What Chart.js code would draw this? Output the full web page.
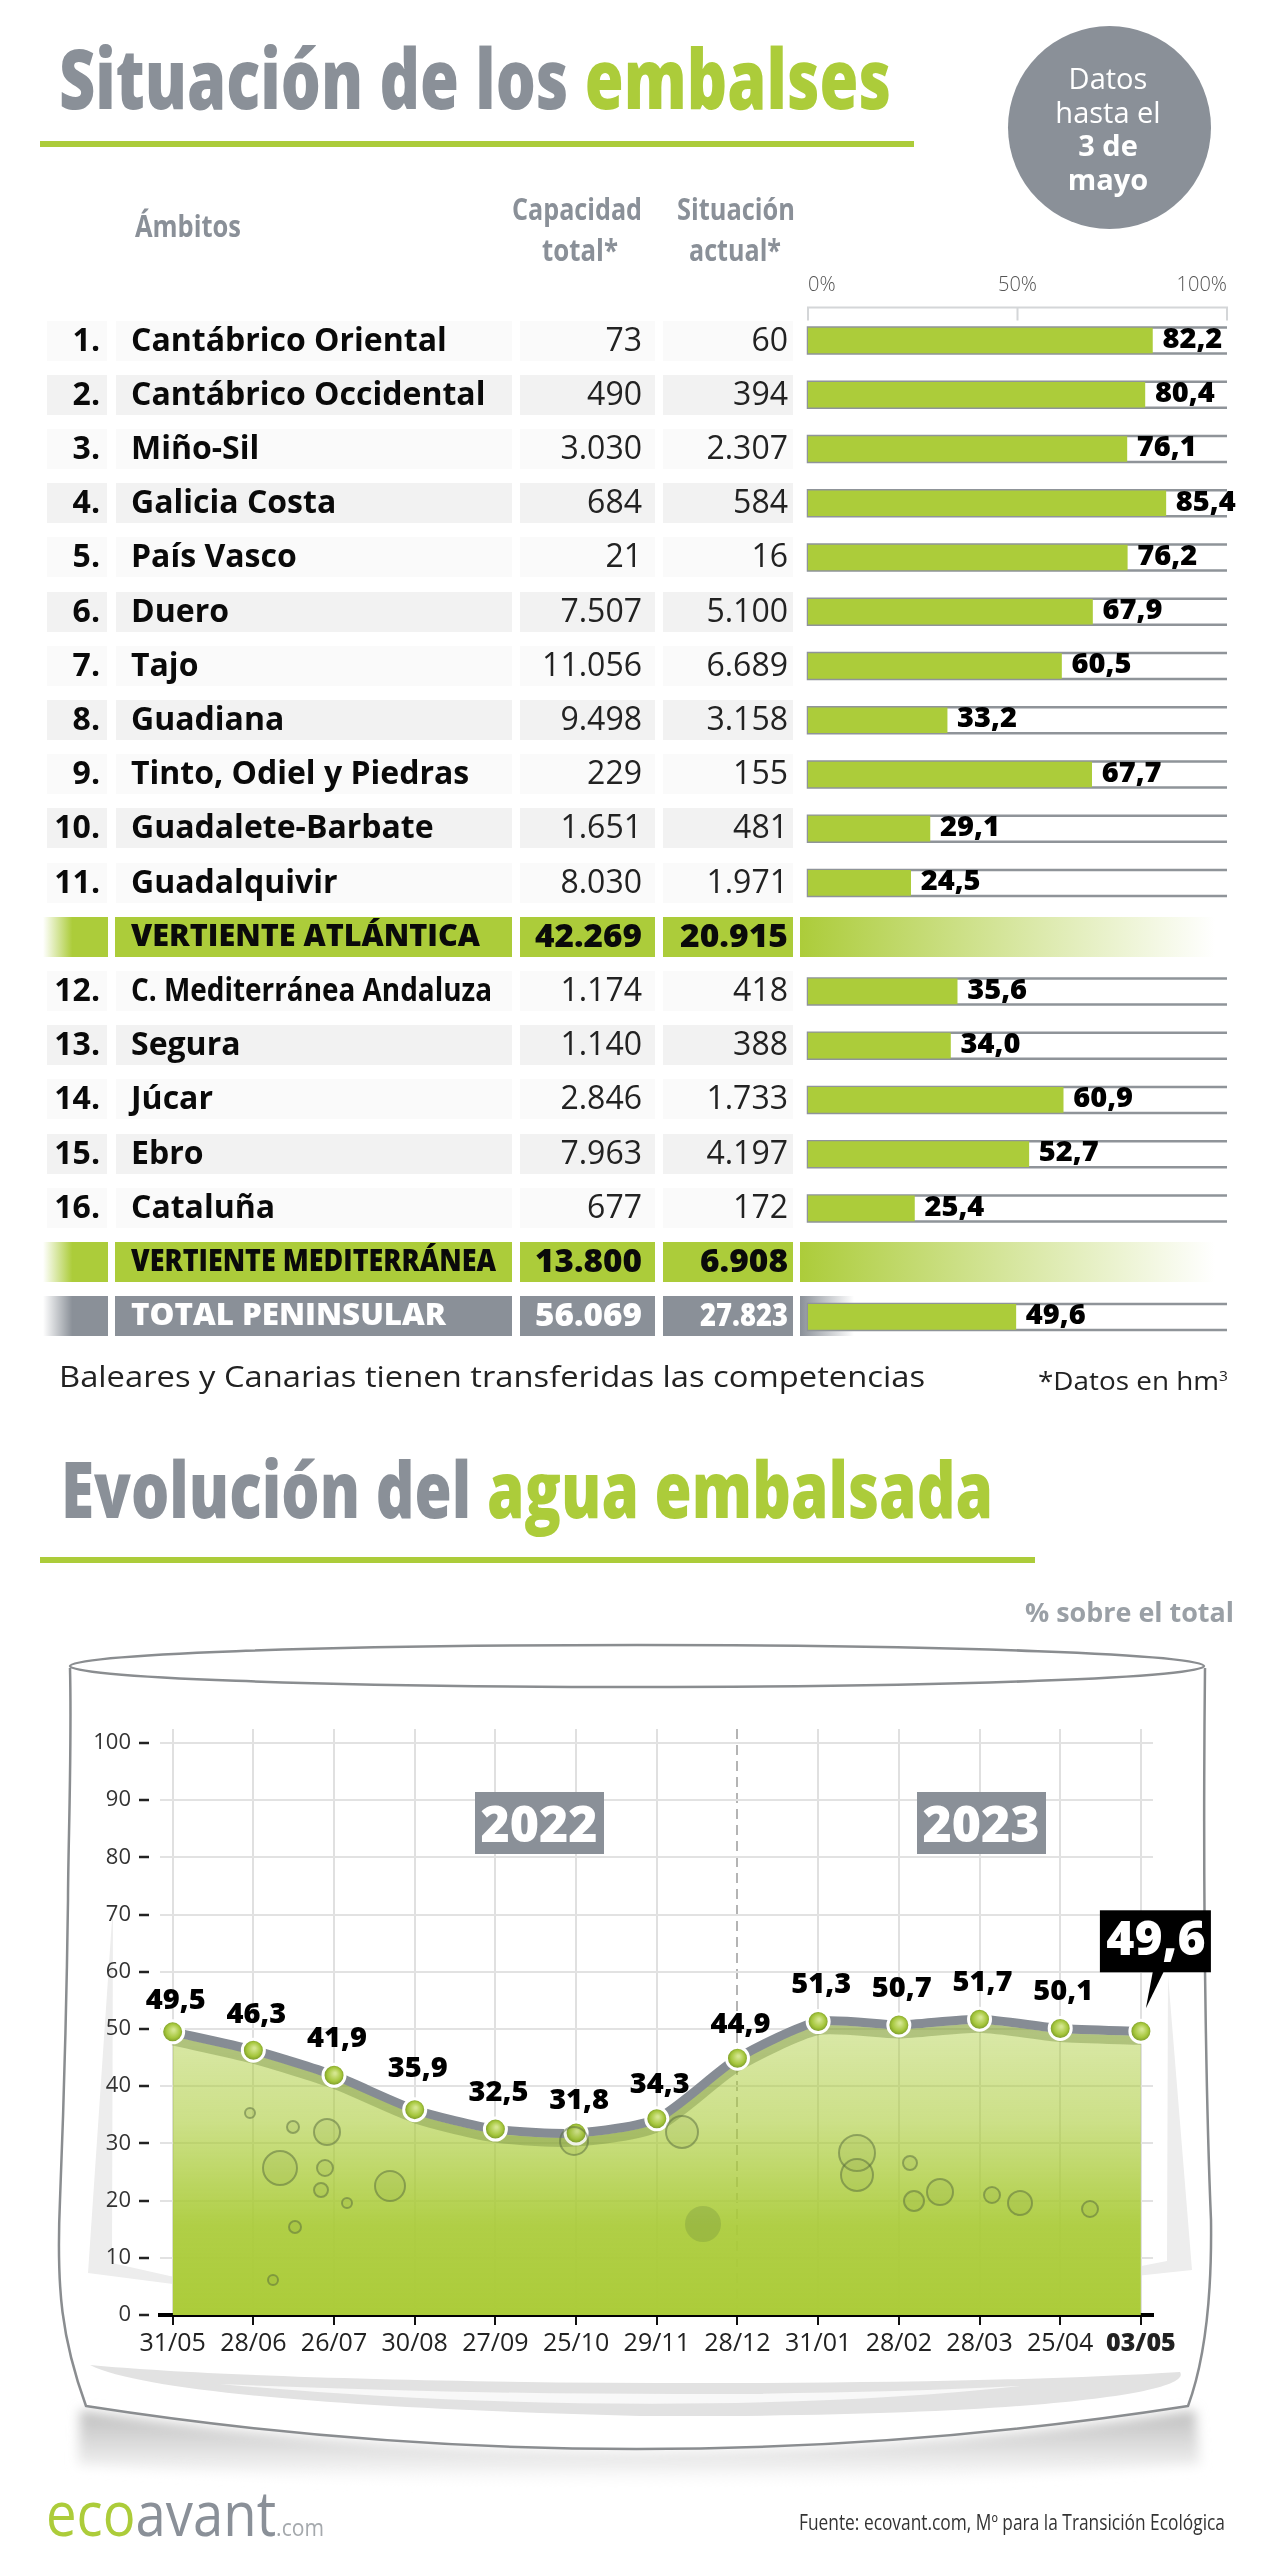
<!DOCTYPE html>
<html lang="es">
<head>
<meta charset="utf-8">
<title>Situación de los embalses</title>
<script src="https://cdn.jsdelivr.net/npm/chart.js@4"></script>
<style>
  html, body { margin: 0; background: #fff; }
  #page { position: relative; width: 1280px; height: 2560px; overflow: hidden; font-family: "Open Sans", sans-serif; background: #fff; }
  #page > * { position: absolute; }
  .t { white-space: nowrap; }
  canvas { display: block; }
  svg { left: 0; top: 0; pointer-events: none; }
</style>
</head>
<body>
<div id="page">
  <svg id="vaso" width="1280" height="2560" viewBox="0 0 1280 2560">
    <defs>
      <linearGradient id="sombra" x1="0" y1="0" x2="0" y2="1"><stop offset="0" stop-color="#bdbdbd"/><stop offset="1" stop-color="#fff"/></linearGradient>
      <filter id="difuso" x="-5%" y="-30%" width="110%" height="160%"><feGaussianBlur stdDeviation="6"/></filter>
    </defs>
    <path d="M80 2410 Q637 2494 1195 2410 L1200 2465 Q637 2500 78 2465Z" fill="url(#sombra)" filter="url(#difuso)"/>
    <path d="M86 2406 Q637 2492 1188 2406 L1188 2400 L86 2400Z" fill="#fff"/>
    <path d="M90 2365 C300 2385 900 2390 1180 2372 C1195 2395 1000 2418 640 2416 C400 2410 150 2395 90 2365Z" fill="#e2e2e2"/>
    <path d="M220 2384 C500 2396 800 2398 1020 2386 C800 2410 500 2410 220 2384Z" fill="#f8f8f8"/>
    <polygon points="113,1905 112,2263 250,2294 88,2273" fill="#ededed"/>
    <polygon points="1168,1975 1192,2270 1033,2287 1167,2261" fill="#ededed"/>
    <ellipse cx="637" cy="1666" rx="567" ry="21" fill="none" stroke="#8a8d90" stroke-width="2.5"/>
    <path d="M70 1668 C72 1750 68 1850 68 1900 C66 2050 62 2150 60 2200 C56 2290 62 2340 86 2406 Q637 2492 1188 2406 C1205 2360 1212 2300 1211 2220 C1208 2150 1202 1950 1205 1668" fill="none" stroke="#8a8d90" stroke-width="2.5"/>
  </svg>
  <canvas id="barras" width="480" height="1076" style="left:780px;top:268px"></canvas>
  <canvas id="evolucion" width="1280" height="720" style="left:0;top:1700px"></canvas>
  <svg id="burbujas" width="1280" height="2560" viewBox="0 0 1280 2560" fill="rgba(120,150,60,.12)" stroke="rgba(85,105,60,.5)" stroke-width="2">
    <circle cx="280" cy="2168" r="17"/><circle cx="327" cy="2132" r="13"/><circle cx="390" cy="2186" r="15"/>
    <circle cx="321" cy="2190" r="7"/><circle cx="295" cy="2227" r="6"/><circle cx="347" cy="2203" r="5"/>
    <circle cx="325" cy="2168" r="8"/><circle cx="293" cy="2127" r="6"/><circle cx="250" cy="2113" r="5"/>
    <circle cx="273" cy="2280" r="5"/><circle cx="857" cy="2153" r="18"/><circle cx="857" cy="2175" r="16"/>
    <circle cx="910" cy="2163" r="7"/><circle cx="914" cy="2201" r="10"/><circle cx="940" cy="2192" r="13"/>
    <circle cx="992" cy="2195" r="8"/><circle cx="1020" cy="2203" r="12"/><circle cx="1090" cy="2209" r="8"/>
    <circle cx="703" cy="2224" r="18" stroke="none" fill="rgba(110,140,60,.3)"/><circle cx="682" cy="2132" r="16"/><circle cx="574" cy="2141" r="14"/>
  </svg>
</div>

<script>
const ambitos = ['Cantábrico Oriental','Cantábrico Occidental','Miño-Sil','Galicia Costa','País Vasco','Duero','Tajo','Guadiana','Tinto, Odiel y Piedras','Guadalete-Barbate','Guadalquivir','VERTIENTE ATLÁNTICA','C. Mediterránea Andaluza','Segura','Júcar','Ebro','Cataluña','VERTIENTE MEDITERRÁNEA','TOTAL PENINSULAR'];
const numeros = ['1.','2.','3.','4.','5.','6.','7.','8.','9.','10.','11.','','12.','13.','14.','15.','16.','',''];
const capacidad = ['73','490','3.030','684','21','7.507','11.056','9.498','229','1.651','8.030','42.269','1.174','1.140','2.846','7.963','677','13.800','56.069'];
const situacion = ['60','394','2.307','584','16','5.100','6.689','3.158','155','481','1.971','20.915','418','388','1.733','4.197','172','6.908','27.823'];
const porcentaje = [82.2,80.4,76.1,85.4,76.2,67.9,60.5,33.2,67.7,29.1,24.5,null,35.6,34.0,60.9,52.7,25.4,null,49.6];
const fechas = ['31/05','28/06','26/07','30/08','27/09','25/10','29/11','28/12','31/01','28/02','28/03','25/04','03/05'];
const agua = [49.5,46.3,41.9,35.9,32.5,31.8,34.3,44.9,51.3,50.7,51.7,50.1,49.6];
const marcasAgua = [0,10,20,30,40,50,60,70,80,90,100];
// ajuste vertical de cada etiqueta respecto a su punto
const subeEtiqueta = [31,35,37,41,36,32,34,33,37,36,37,37];

const VERDE = '#accc3a', GRIS = '#8a9098';
const page = document.getElementById('page');
Chart.defaults.animation = false;
Chart.defaults.font.family = '"Open Sans", sans-serif';
Chart.defaults.plugins.legend.display = false;
Chart.defaults.plugins.tooltip.enabled = false;

// texto suelto: x es el borde izquierdo, o el derecho con dcha, o el centro con centro; w fuerza el ancho
function texto(html, x, y, px, peso, color, o = {}) {
    const el = document.createElement('div');
    el.className = 't';
    el.innerHTML = html;
    el.style.cssText = `top:${y - px}px;line-height:${px * 2}px;font-size:${px}px;font-weight:${peso};color:${color}`;
    page.appendChild(el);
    const ancho = el.getBoundingClientRect().width;
    const esc = o.w ? o.w / ancho : 1;
    const izq = o.dcha ? x - ancho * esc : o.centro ? x - ancho * esc / 2 : x;
    el.style.left = izq + 'px';
    el.style.transformOrigin = 'left center';
    el.style.transform = `scaleX(${esc})`;
    return el;
}
function caja(x, y, w, h, fondo) {
    const el = document.createElement('div');
    el.style.cssText = `left:${x}px;top:${y}px;width:${w}px;height:${h}px;background:${fondo}`;
    page.insertBefore(el, page.firstChild);
}

// cabeceras
texto(`<span style="color:${GRIS}">Situación de los</span> <span style="color:${VERDE}">embalses</span>`, 59, 77, 84, 800, GRIS, { w: 832 });
caja(40, 141, 874, 6, VERDE);
const circulo = document.createElement('div');
circulo.style.cssText = `left:1008px;top:26px;width:203px;height:203px;border-radius:50%;background:${GRIS}`;
page.appendChild(circulo);
texto('Datos', 1108, 78, 29, 400, '#fff', { centro: true });
texto('hasta el', 1108, 112, 29, 400, '#fff', { centro: true });
texto('3 de', 1108, 145, 29, 700, '#fff', { centro: true });
texto('mayo', 1108, 179, 29, 700, '#fff', { centro: true });
texto('Ámbitos', 135, 226, 30, 700, GRIS, { w: 106 });
texto('Capacidad', 512, 209, 30, 700, GRIS, { w: 130 });
texto('total*', 580, 250, 30, 700, GRIS, { centro: true, w: 76 });
texto('Situación', 677, 209, 30, 700, GRIS, { w: 118 });
texto('actual*', 735, 250, 30, 700, GRIS, { centro: true, w: 92 });

// tabla, una fila por ámbito
const FILA0 = 340.5, PASO = 54.2;
ambitos.forEach((nombre, i) => {
    const yc = FILA0 + i * PASO;
    const yt = yc - 2;
    const esVertiente = nombre.startsWith('VERTIENTE'), esTotal = nombre.startsWith('TOTAL');
    if (esVertiente || esTotal) {
        const c = esTotal ? GRIS : VERDE;
        caja(43, yc - 20, 65, 40, `linear-gradient(90deg,#fff,${c} 45%)`);
        caja(115, yc - 20, 397, 40, c);
        caja(520, yc - 20, 135, 40, c);
        caja(663, yc - 20, 130, 40, c);
        if (esTotal) caja(800, yc - 20, 54, 40, `linear-gradient(90deg,${c},#fff)`);
        else caja(800, yc - 20, 415, 40, `linear-gradient(90deg,${c},#fff)`);
        const col = esTotal ? '#fff' : '#0a0a0a';
        texto(nombre, 131, yt, 30, 800, col, { w: esTotal ? 315 : (nombre.endsWith('ATLÁNTICA') ? 349 : 365) });
        texto(capacidad[i], 642, yt, 31, 800, col, { dcha: true, w: 107 });
        texto(situacion[i], 788, yt, 31, 800, col, { dcha: true, w: i === 11 ? 108 : 88 });
    } else {
        const fondo = i % 2 ? '#f2f2f2' : '#fafafa';
        caja(47, yc - 20, 60, 40, fondo);
        caja(116, yc - 20, 396, 40, fondo);
        caja(520, yc - 20, 135, 40, fondo);
        caja(663, yc - 20, 130, 40, fondo);
        texto(numeros[i], 100, yt, 32, 700, '#0a0a0a', { dcha: true });
        texto(nombre, 131, yt, 32, 700, '#0a0a0a', nombre.startsWith('C. ') ? { w: 361 } : {});
        texto(capacidad[i], 642, yt, 32, 400, '#222', { dcha: true });
        texto(situacion[i], 788, yt, 32, 400, '#222', { dcha: true });
    }
});

// notas y segundo titular
texto('Baleares y Canarias tienen transferidas las competencias', 59, 1376, 30, 400, '#222', { w: 866 });
texto('*Datos en hm<sup style="font-size:14px;line-height:0">3</sup>', 1038, 1380, 25, 400, '#222', { w: 190 });
texto(`<span style="color:${GRIS}">Evolución del</span> <span style="color:${VERDE}">agua embalsada</span>`, 61, 1488, 78, 800, GRIS, { w: 932 });
caja(40, 1557, 995, 6, VERDE);
texto('% sobre el total', 1025, 1612, 26, 700, '#9aa0a6', { w: 209 });

// marcas de año
[['2022', 475], ['2023', 917]].forEach(([anyo, x]) => {
    const el = texto(anyo, x + 64, 1823, 50, 800, '#fff', { centro: true });
    el.style.zIndex = 3;
    const fondo = document.createElement('div');
    fondo.style.cssText = `left:${x}px;top:1792px;width:129px;height:62px;background:${GRIS};z-index:2`;
    page.appendChild(fondo);
});

// pie
texto(`<span style="color:${VERDE}">eco</span><span style="color:#8a9098">avant</span><span style="color:#a5a9ad;font-size:24px">.com</span>`, 46, 2512, 62, 400, GRIS, { w: 278 });
texto('Fuente: ecovant.com, Mº para la Transición Ecológica', 799, 2522, 21, 400, '#333', { w: 426 });

// carriles de cada barra y corchete de la escala
const carriles = {
    id: 'carriles',
    beforeDatasetsDraw(chart) {
        const { ctx, scales: { x, y } } = chart;
        const x0 = x.getPixelForValue(0), x50 = x.getPixelForValue(50), x100 = x.getPixelForValue(100);
        ctx.save();
        ctx.strokeStyle = '#d4d6d8';
        ctx.lineWidth = 2;
        ctx.beginPath();
        const top = chart.chartArea.top - 6;
        ctx.moveTo(x0, top + 13); ctx.lineTo(x0, top); ctx.lineTo(x100, top); ctx.lineTo(x100, top + 13);
        ctx.moveTo(x50, top); ctx.lineTo(x50, top + 13);
        ctx.stroke();
        ctx.strokeStyle = '#8f9499';
        ctx.lineWidth = 2.5;
        porcentaje.forEach((v, i) => {
            if (v === null) return;
            const yp = y.getPixelForValue(i);
            ctx.beginPath();
            ctx.moveTo(x100, yp - 13); ctx.lineTo(x0, yp - 13); ctx.lineTo(x0, yp + 13); ctx.lineTo(x100, yp + 13);
            ctx.stroke();
        });
        ctx.restore();
    },
    afterDatasetsDraw(chart) {
        const { ctx, scales: { x, y } } = chart;
        ctx.save();
        ctx.font = '800 29px "Open Sans"';
        ctx.fillStyle = '#000';
        ctx.textBaseline = 'middle';
        porcentaje.forEach((v, i) => {
            if (v === null) return;
            ctx.fillText(v.toFixed(1).replace('.', ','), x.getPixelForValue(v) + 10, y.getPixelForValue(i) - 1);
        });
        ctx.restore();
    }
};

new Chart(document.getElementById('barras'), {
    type: 'bar',
    plugins: [carriles],
    data: { labels: ambitos, datasets: [{ data: porcentaje, backgroundColor: VERDE, barThickness: 25 }] },
    options: {
        indexAxis: 'y', responsive: false,
        layout: { padding: { left: 28, right: 33 } },
        scales: {
            y: { display: false, grid: { display: false } },
            x: {
                position: 'top', min: 0, max: 100,
                afterFit: s => { s.height = 45.4; },
                grid: { display: false }, border: { display: false },
                ticks: { stepSize: 50, align: 'inner', maxRotation: 0, padding: 8, color: '#555', font: { size: 20, weight: 300 }, callback: v => v + '%' }
            }
        }
    }
});

// sombra verdosa bajo la línea gris
const bandaLinea = {
    id: 'bandaLinea',
    beforeDatasetDraw(chart, args) {
        if (args.index !== 1) return;
        chart.ctx.save();
        chart.ctx.shadowColor = 'rgba(110,135,60,.38)';
        chart.ctx.shadowOffsetY = 9;
    },
    afterDatasetDraw(chart, args) {
        if (args.index === 1) chart.ctx.restore();
    }
};
const etiquetas = {
    id: 'etiquetas',
    afterDatasetsDraw(chart) {
        const { ctx, scales: { x, y } } = chart;
        ctx.save();
        ctx.font = '800 29px "Open Sans"';
        ctx.fillStyle = '#000';
        ctx.textAlign = 'center';
        ctx.textBaseline = 'middle';
        subeEtiqueta.forEach((sube, i) => {
            ctx.fillText(agua[i].toFixed(1).replace('.', ','), x.getPixelForValue(i) + 3, y.getPixelForValue(agua[i]) - sube);
        });
        // el último dato va en el bocadillo negro
        const n = agua.length - 1, px = x.getPixelForValue(n), py = y.getPixelForValue(agua[n]);
        ctx.fillStyle = '#000';
        ctx.fillRect(px - 41, py - 121, 111, 62);
        ctx.beginPath();
        ctx.moveTo(px + 12, py - 60); ctx.lineTo(px + 23, py - 60); ctx.lineTo(px + 5, py - 23);
        ctx.fill();
        ctx.fillStyle = '#fff';
        ctx.font = '800 48px "Open Sans"';
        ctx.fillText(agua[n].toFixed(1).replace('.', ','), px + 15, py - 90);
        ctx.restore();
    }
};
const bolaVerde = c => {
    const x = c.chart.scales.x && c.chart.scales.x.getPixelForValue(c.dataIndex), y = c.chart.scales.y && c.chart.scales.y.getPixelForValue(agua[c.dataIndex]);
    if (!isFinite(x) || !isFinite(y)) return VERDE;
    const g = c.chart.ctx.createRadialGradient(x + 1, y - 2, 1, x, y, 11);
    g.addColorStop(0, '#d4e68e'); g.addColorStop(.6, '#a5c63c'); g.addColorStop(1, '#6f8f22');
    return g;
};
const fondoAgua = c => {
    const a = c.chart.chartArea;
    if (!a) return VERDE;
    const g = c.chart.ctx.createLinearGradient(0, c.chart.scales.y.getPixelForValue(52), 0, a.bottom);
    g.addColorStop(0, 'rgba(170,203,56,.42)');
    g.addColorStop(.35, 'rgba(170,203,56,.6)');
    g.addColorStop(.7, 'rgba(170,203,56,.93)');
    g.addColorStop(1, 'rgba(172,204,58,1)');
    return g;
};
const puntos = agua.map((v, i) => ({ x: i, y: v }));

new Chart(document.getElementById('evolucion'), {
    type: 'line',
    plugins: [bandaLinea, etiquetas],
    data: { datasets: [
        { data: puntos, showLine: false, pointRadius: 11, pointBorderWidth: 3, pointBorderColor: '#fff', pointBackgroundColor: bolaVerde },
        { data: puntos, borderColor: '#868c94', borderWidth: 9, tension: 0.22, pointRadius: 0 },
        { data: puntos, borderWidth: 0, tension: 0.22, pointRadius: 0, fill: 'origin', backgroundColor: fondoAgua }
    ] },
    options: {
        responsive: false, clip: false,
        layout: { padding: { top: 29, right: 127 } },
        scales: {
            x: {
                type: 'linear', min: -0.157, max: 12.15,
                afterBuildTicks: s => { s.ticks = fechas.map((_, i) => ({ value: i })); },
                afterFit: s => { s.height = 105; },
                grid: {
                    color: c => c.tick && c.tick.value === 7 ? '#b4b4b4' : '#e0e0e0', lineWidth: 2,
                    tickColor: '#111', tickLength: 10, tickWidth: 2
                },
                border: { color: '#000', width: 4, dash: c => c.tick && c.tick.value === 7 ? [10, 6] : [] },
                ticks: {
                    autoSkip: false, maxRotation: 0, padding: 4, color: '#222',
                    font: c => ({ size: 25, weight: c.index === fechas.length - 1 ? 800 : 400 }),
                    callback: v => fechas[v]
                }
            },
            y: {
                min: 0, max: 102.45,
                afterBuildTicks: s => { s.ticks = marcasAgua.map(value => ({ value })); },
                afterFit: s => { s.width = 160; },
                grid: { color: '#e2e2e2', lineWidth: 2, tickColor: '#222', tickLength: 21, tickWidth: 2.5, tickBorderDash: [10, 30] },
                border: { display: false },
                ticks: { padding: 8, color: '#333', font: { size: 22 } }
            }
        }
    }
});
</script>
</body>
</html>
